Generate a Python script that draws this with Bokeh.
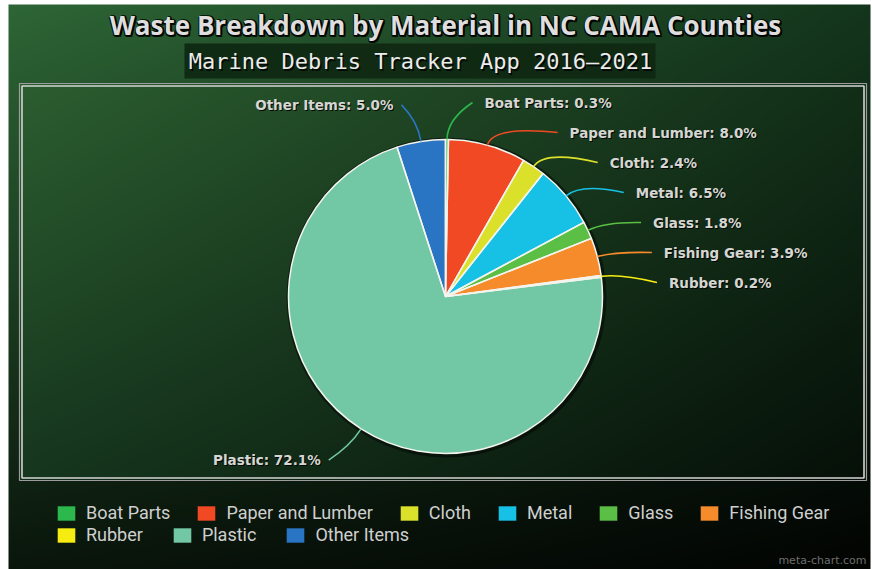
import numpy as np
from bokeh.plotting import figure
from bokeh.models import Range1d, Legend, LegendItem, ColumnDataSource
from bokeh.core.properties import value
from bokeh.embed import file_html
from bokeh.resources import INLINE

W, H = 872, 569

title = "Waste Breakdown by Material in NC CAMA Counties"
subtitle = "Marine Debris Tracker App 2016\u20132021"
watermark = "meta-chart.com"
materials = ["Boat Parts", "Paper and Lumber", "Cloth", "Metal", "Glass",
             "Fishing Gear", "Rubber", "Plastic", "Other Items"]
percents = [0.3, 8.0, 2.4, 6.5, 1.8, 3.9, 0.2, 72.1, 5.0]
colors = ["#2db84d", "#f04923", "#dbe02a", "#17c0e5", "#5cbf45",
          "#f68b2b", "#f7ec12", "#72c7a5", "#2a75c3"]


def Y(y):
    return H - y


p = figure(width=W, height=H, x_range=Range1d(0, W), y_range=Range1d(0, H),
           output_backend="svg", toolbar_location=None, min_border=0,
           x_axis_location=None, y_axis_location=None,
           background_fill_color="white", border_fill_color="white",
           outline_line_color=None)
p.xgrid.visible = False
p.ygrid.visible = False

# ---- background gradient image ----
x0, x1, y0, y1 = 8, 870, 4, 569
bl, br, bt, bb = 19, 866, 83, 480
step = 2
xs = np.arange(x0, x1, step) + step / 2
ys = np.arange(y0, y1, step) + step / 2
XX, YY = np.meshgrid(xs, ys)


def bilinear(tx, ty, tl, tr, blc, brc):
    tl, tr, blc, brc = [np.array(c, float) for c in (tl, tr, blc, brc)]
    tx = tx[..., None]
    ty = ty[..., None]
    top = tl * (1 - tx) + tr * tx
    bot = blc * (1 - tx) + brc * tx
    return top * (1 - ty) + bot * ty


outer = bilinear((XX - x0) / (x1 - x0), (YY - y0) / (y1 - y0),
                 (46, 102, 54), (20, 54, 28), (10, 22, 12), (2, 4, 2))
inner = bilinear((XX - bl) / (br - bl), (YY - bt) / (bb - bt),
                 (44, 94, 48), (18, 46, 24), (22, 54, 30), (6, 16, 8))
inside = (XX > bl) & (XX < br) & (YY > bt) & (YY < bb)
rgb = np.where(inside[..., None], inner, outer)
rgb = np.flipud(rgb)
h, w = rgb.shape[:2]
img = np.empty((h, w), dtype=np.uint32)
view = img.view(dtype=np.uint8).reshape((h, w, 4))
view[..., 0] = rgb[..., 0].astype(np.uint8)
view[..., 1] = rgb[..., 1].astype(np.uint8)
view[..., 2] = rgb[..., 2].astype(np.uint8)
view[..., 3] = 255
p.image_rgba(image=[img], x=x0, y=Y(y1), dw=x1 - x0, dh=y1 - y0)

# ---- plot box border ----
p.quad(left=bl, right=br, top=Y(bt), bottom=Y(bb), fill_color=None,
       line_color="#9c9c9c", line_width=1.2)
p.quad(left=bl + 2.5, right=br - 2.5, top=Y(bt + 2.5), bottom=Y(bb - 2.5),
       fill_color=None, line_color="#d4d4d4", line_width=1.6)

# ---- titles ----
tx_c, ty_c = 445, 24
for dx, dy in ((2, 2), (-1, 1), (1, -1), (2, 0), (0, 2)):
    p.text(x=[tx_c + dx], y=[Y(ty_c + dy)], text=[title],
           text_font=value("Open Sans"), text_font_style="bold",
           text_font_size="26px", text_color="black", text_alpha=0.75,
           text_align="center", text_baseline="middle")
p.text(x=[tx_c], y=[Y(ty_c)], text=[title], text_font=value("Open Sans"),
       text_font_style="bold", text_font_size="26px", text_color="#dedede",
       text_align="center", text_baseline="middle")

p.quad(left=184, right=655, top=Y(43), bottom=Y(78), fill_color="#0e2712",
       fill_alpha=0.9, line_color=None)
p.text(x=[420 + 1.5], y=[Y(61 + 1.5)], text=[subtitle],
       text_font=value("DejaVu Sans Mono"), text_font_size="22px",
       text_color="black", text_alpha=0.8, text_align="center",
       text_baseline="middle")
p.text(x=[420], y=[Y(61)], text=[subtitle], text_font=value("DejaVu Sans Mono"),
       text_font_size="22px", text_color="#ececec", text_align="center",
       text_baseline="middle")

# ---- pie ----
cx, cy, r = 445, 296, 157
frac = np.array(percents) / sum(percents)
cum = np.concatenate([[0], np.cumsum(frac)])
start = np.pi / 2 - 2 * np.pi * cum[:-1]
end = np.pi / 2 - 2 * np.pi * cum[1:]
src = ColumnDataSource(dict(material=materials, pct=percents, color=colors,
                            start=start, end=end))

p.circle(x=[cx + 1], y=[Y(cy + 1)], radius=r + 3, fill_color="black",
         fill_alpha=0.45, line_color=None)
fill_r = p.wedge(x=cx, y=Y(cy), radius=r, start_angle="start",
                 end_angle="end", direction="clock", fill_color="color",
                 line_color=None, source=src)
p.wedge(x=cx, y=Y(cy), radius=r, start_angle="start", end_angle="end",
        direction="clock", fill_color=None, line_color="#f4f4ee",
        line_width=1.5, source=src)

# ---- outside labels with leader lines ----
mid = 2 * np.pi * (cum[:-1] + frac / 2)
sn, cs = np.sin(mid), np.cos(mid)
ax = cx + r * sn
ay = cy - r * cs
ex = cx + (r + 20) * sn
ey = cy - (r + 20) * cs
ny = cy - 194 * cs
right = sn > 0
ly = np.zeros(len(materials))
for side in (right, ~right):
    idx = sorted(np.where(side)[0], key=lambda i: ny[i])
    last = -1e9
    for i in idx:
        ly[i] = max(ny[i], last + 30)
        last = ly[i]
off = 224 * np.sqrt(np.clip(1 - ((ly - cy) / 197) ** 2, 0, 1))
lx = np.where(right, cx + off, cx - off)
endx = np.where(right, lx - 12, lx + 8)

p.quadratic(x0=ax, y0=Y(ay), x1=endx, y1=Y(ly), cx=ex, cy=Y(ey),
            line_color=colors, line_width=1.6)

labels = [f"{m}: {v:.1f}%" for m, v in zip(materials, percents)]
aligns = ["left" if s else "right" for s in right]
lab_src = ColumnDataSource(dict(x=lx, y=Y(ly), xs=lx + 1, ys=Y(ly + 1),
                                text=labels, align=aligns))
p.text(x="xs", y="ys", text="text", source=lab_src, text_align="align",
       text_baseline="middle", text_font=value("DejaVu Sans"),
       text_font_style="bold", text_font_size="13.5px", text_color="black",
       text_alpha=0.85)
p.text(x="x", y="y", text="text", source=lab_src, text_align="align",
       text_baseline="middle", text_font=value("DejaVu Sans"),
       text_font_style="bold", text_font_size="13.5px", text_color="#d6d6d2")

# ---- legend (two rows) ----
rows = [(range(0, 6), 523, 25), (range(6, 9), 545, 28)]
for rng, bottom, spacing in rows:
    items = [LegendItem(label=materials[i], renderers=[fill_r], index=i)
             for i in rng]
    lg = Legend(items=items, orientation="horizontal", location=(55, Y(bottom)),
                label_text_font="Roboto", label_text_font_size="18px",
                label_text_color="#cfcfcf", glyph_width=22, glyph_height=18,
                label_standoff=9, spacing=spacing, padding=0, margin=0,
                label_height=18, background_fill_alpha=0, border_line_alpha=0)
    p.add_layout(lg)

# ---- watermark ----
p.text(x=[866], y=[Y(560)], text=[watermark], text_font=value("DejaVu Sans"),
       text_font_size="11px", text_color="#6e6e6e", text_align="right",
       text_baseline="middle")

open("out.html", "w").write(file_html(p, INLINE))
